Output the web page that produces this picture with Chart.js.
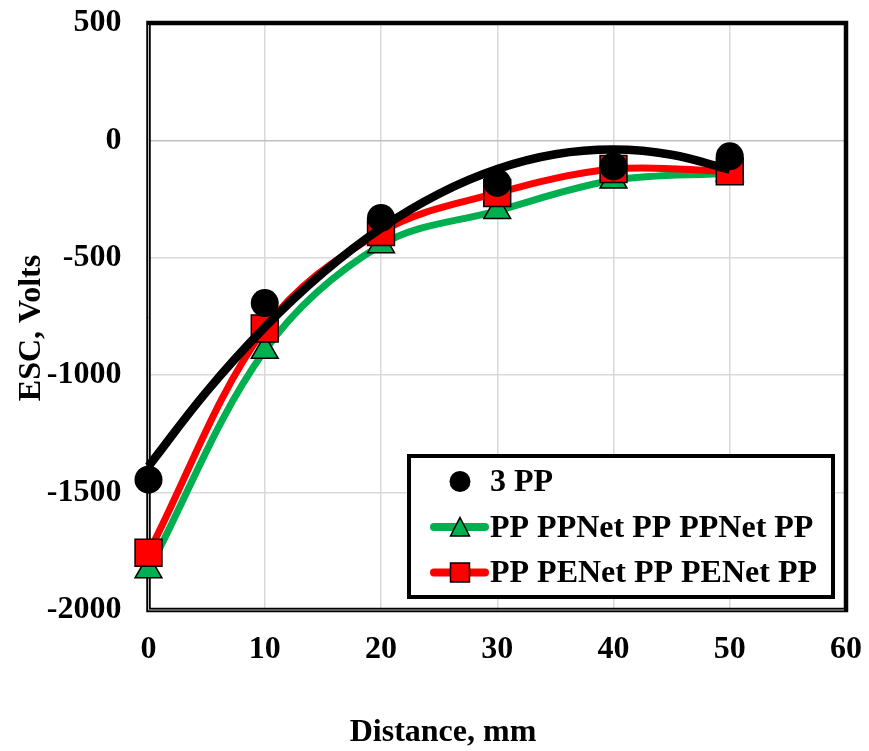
<!DOCTYPE html>
<html><head><meta charset="utf-8">
<script src="https://cdn.jsdelivr.net/npm/chart.js@4/dist/chart.umd.min.js"></script>
<style>html,body{margin:0;padding:0;background:#fff;}#wrap{width:869px;height:751px;}</style>
</head><body><div id="wrap"><canvas id="c" width="869" height="751"></canvas></div>
<script>
// ---- data ----
const distances = [0, 10, 20, 30, 40, 50];
const pp3 = [-1445, -693, -330, -181, -111, -68];
const ppNet = [-1830, -895, -445, -300, -170, -140];
const peNet = [-1756, -801, -390, -224, -122, -132];
const trendX = [0, 5, 10, 15, 20, 25, 30, 35, 40, 45, 50];
const trendY = [-1388, -1070, -796, -564, -374, -227, -122, -59, -39, -61, -125];
const xTicks = [0, 10, 20, 30, 40, 50, 60];
const yTicks = [500, 0, -500, -1000, -1500, -2000];
const seriesLabels = ['3 PP', 'PP PPNet PP PPNet PP', 'PP PENet PP PENet PP'];
const xTitle = 'Distance, mm';
const yTitle = 'ESC, Volts';

const FONT = '"Liberation Serif", "Times New Roman", serif';
const GREEN = '#00b050', RED = '#ff0000', BLACK = '#000000';

const toXY = (xs, ys) => xs.map((x, i) => ({x: x, y: ys[i]}));

const framePlugin = {
  id: 'frame',
  beforeDatasetsDraw(chart) {
    const {ctx, chartArea: a} = chart;
    ctx.save();
    ctx.strokeStyle = '#000';
    ctx.lineWidth = 4.5;
    ctx.strokeRect(a.left, a.top, a.right - a.left, a.bottom - a.top);
    ctx.strokeStyle = '#bdbdbd';
    ctx.lineWidth = 1;
    ctx.beginPath();
    ctx.moveTo(a.left, a.top + 2);
    ctx.lineTo(a.left, a.bottom);
    ctx.lineTo(a.right - 2, a.bottom);
    ctx.stroke();
    ctx.restore();
  }
};

const legendPlugin = {
  id: 'insideLegend',
  afterDatasetsDraw(chart) {
    const ctx = chart.ctx;
    const ds = chart.data.datasets;
    const bx = 409, by = 456, bw = 424, bh = 141;
    ctx.save();
    ctx.fillStyle = '#fff';
    ctx.fillRect(bx, by, bw, bh);
    ctx.lineWidth = 4;
    ctx.strokeStyle = '#000';
    ctx.strokeRect(bx, by, bw, bh);
    ctx.font = 'bold 32px ' + FONT;
    ctx.textBaseline = 'alphabetic';
    ctx.textAlign = 'left';
    ctx.fillStyle = '#000';
    const rows = [
      {ds: ds[0], cy: 481.5, base: 491},
      {ds: ds[1], cy: 527, base: 536.5},
      {ds: ds[2], cy: 572.5, base: 581.5}
    ];
    const mx = 460;
    rows.forEach((r, i) => {
      if (i > 0) {
        ctx.strokeStyle = r.ds.borderColor;
        ctx.lineWidth = 8;
        ctx.lineCap = 'round';
        ctx.beginPath();
        ctx.moveTo(434, r.cy);
        ctx.lineTo(485, r.cy);
        ctx.stroke();
      }
      ctx.fillStyle = r.ds.pointBackgroundColor;
      ctx.strokeStyle = '#000';
      ctx.lineWidth = 1.5;
      ctx.beginPath();
      if (i === 0) {
        ctx.arc(mx, r.cy, 10.5, 0, Math.PI * 2);
        ctx.fill();
      } else if (i === 1) {
        ctx.moveTo(mx, r.cy - 9.5);
        ctx.lineTo(mx + 9.5, r.cy + 9);
        ctx.lineTo(mx - 9.5, r.cy + 9);
        ctx.closePath();
        ctx.fill(); ctx.stroke();
      } else {
        ctx.rect(mx - 9.5, r.cy - 9.5, 19, 19);
        ctx.fill(); ctx.stroke();
      }
      ctx.fillStyle = '#000';
      ctx.fillText(r.ds.label, 490, r.base);
    });
    ctx.restore();
  }
};

const titlesPlugin = {
  id: 'axisTitles',
  afterDraw(chart) {
    const ctx = chart.ctx;
    ctx.save();
    ctx.fillStyle = '#000';
    ctx.font = 'bold 32px ' + FONT;
    ctx.textAlign = 'center';
    ctx.textBaseline = 'alphabetic';
    ctx.fillText(xTitle, 443, 741);
    ctx.translate(39.5, 328);
    ctx.rotate(-Math.PI / 2);
    ctx.fillText(yTitle, 0, 0);
    ctx.restore();
  }
};

new Chart(document.getElementById('c'), {
  type: 'line',
  data: {
    datasets: [
      {
        label: seriesLabels[0],
        data: toXY(distances, pp3),
        showLine: false,
        pointStyle: 'circle',
        pointRadius: 14,
        pointBackgroundColor: BLACK,
        pointBorderColor: BLACK,
        pointBorderWidth: 0,
        borderColor: BLACK,
        order: 0,
        clip: false
      },
      {
        label: seriesLabels[1],
        data: toXY(distances, ppNet),
        borderColor: GREEN,
        borderWidth: 7,
        tension: 0.35,
        pointStyle: 'triangle',
        pointRadius: 15.5,
        pointBackgroundColor: GREEN,
        pointBorderColor: BLACK,
        pointBorderWidth: 1.5,
        order: 3,
        clip: false
      },
      {
        label: seriesLabels[2],
        data: toXY(distances, peNet),
        borderColor: RED,
        borderWidth: 7,
        tension: 0.35,
        pointStyle: 'rect',
        pointRadius: 19,
        pointBackgroundColor: RED,
        pointBorderColor: BLACK,
        pointBorderWidth: 1.5,
        order: 2,
        clip: false
      },
      {
        label: 'trend',
        data: toXY(trendX, trendY),
        borderColor: BLACK,
        borderWidth: 8.5,
        tension: 0.4,
        pointRadius: 0,
        order: 1,
        clip: false
      }
    ]
  },
  options: {
    responsive: false,
    devicePixelRatio: 1,
    animation: false,
    events: [],
    layout: {padding: {left: 0, right: 23, top: 23, bottom: 0}},
    plugins: {legend: {display: false}, tooltip: {enabled: false}, title: {display: false}},
    scales: {
      x: {
        type: 'linear',
        min: 0, max: 60,
        afterBuildTicks: s => { s.ticks = xTicks.map(v => ({value: v})); },
        afterFit: s => { s.height = 141; },
        border: {display: false},
        grid: {
          drawTicks: true,
          tickLength: 21,
          tickColor: 'rgba(0,0,0,0)',
          lineWidth: 1.5,
          color: c => (c.tick && (c.tick.value === 0 || c.tick.value === 60)) ? 'rgba(0,0,0,0)' : '#d9d9d9'
        },
        ticks: {color: '#000', padding: 0, maxRotation: 0, autoSkip: false,
          callback: v => String(v),
          font: {family: FONT, size: 32, weight: 'bold'}}
      },
      y: {
        type: 'linear',
        min: -2000, max: 500,
        afterBuildTicks: s => { s.ticks = yTicks.slice().reverse().map(v => ({value: v})); },
        afterFit: s => { s.width = 148.5; },
        border: {display: false},
        grid: {
          drawTicks: true,
          tickLength: 27,
          tickColor: 'rgba(0,0,0,0)',
          lineWidth: 1.5,
          color: c => (c.tick && c.tick.value === 0) ? '#bfbfbf' : ((c.tick && (c.tick.value === 500 || c.tick.value === -2000)) ? 'rgba(0,0,0,0)' : '#d9d9d9')
        },
        ticks: {color: '#000', padding: 0, autoSkip: false,
          callback: v => String(v),
          font: {family: FONT, size: 32, weight: 'bold'}}
      }
    }
  },
  plugins: [framePlugin, legendPlugin, titlesPlugin]
});
</script></body></html>
